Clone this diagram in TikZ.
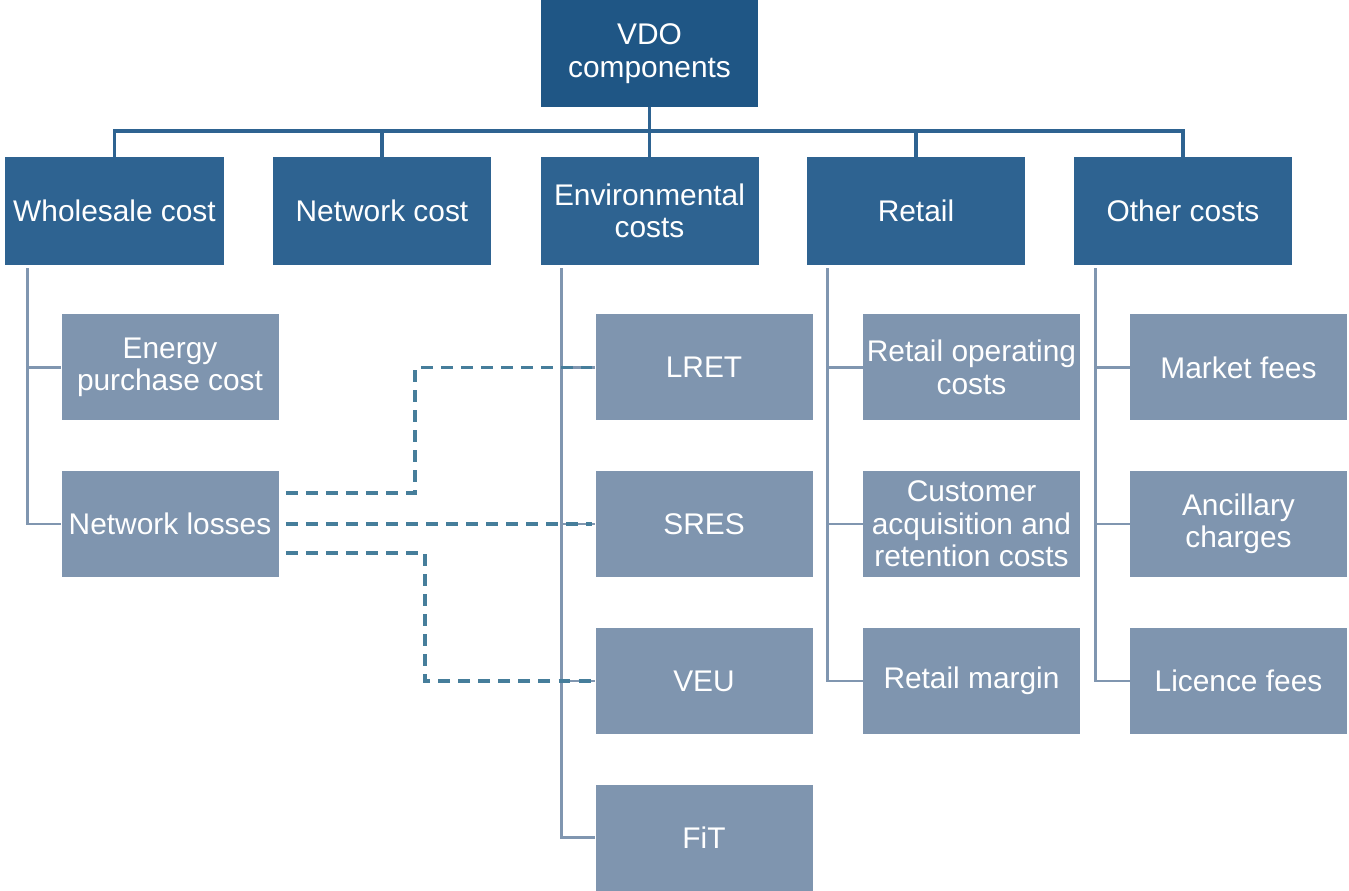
\documentclass[tikz,border=0pt]{standalone}
\usepackage{fontspec}
\setmainfont{Liberation Sans}
\usetikzlibrary{calc}
\definecolor{topc}{RGB}{31,86,133}
\definecolor{midc}{RGB}{46,99,145}
\definecolor{lowc}{RGB}{127,149,175}
\definecolor{subline}{RGB}{128,150,176}
\definecolor{dashc}{RGB}{70,126,155}
\tikzset{
  boxbase/.style={rectangle, text=white, align=center, inner sep=1pt,
    font=\fontsize{17}{18.5}\selectfont},
  topbox/.style={boxbase, fill=topc, minimum width=4.34cm, minimum height=2.14cm},
  midbox/.style={boxbase, fill=midc, minimum width=4.36cm, minimum height=2.16cm},
  lowbox/.style={boxbase, fill=lowc, minimum width=4.34cm, minimum height=2.12cm},
  busline/.style={draw=midc, line width=2pt},
  subconn/.style={draw=subline, line width=1.6pt},
  dashconn/.style={draw=dashc, line width=1.8pt, dash pattern=on 6.8pt off 4.6pt}
}
\begin{document}
\begin{tikzpicture}
\useasboundingbox (0,0) rectangle (26.98,-17.82);
% top
\node[topbox] (vdo) at (12.99,-1.07) {VDO\\components};
% level 1
\node[midbox] (w) at (2.29,-4.22) {Wholesale cost};
\node[midbox] (n) at (7.64,-4.22) {Network cost};
\node[midbox] (e) at (12.99,-4.22) {Environmental\\costs};
\node[midbox] (r) at (18.32,-4.22) {Retail};
\node[midbox] (o) at (23.66,-4.22) {Other costs};
% level 2
\node[lowbox] (epc) at (3.40,-7.35) {Energy\\purchase cost};
\node[lowbox] (nl) at (3.40,-10.48) {Network losses};
\node[lowbox] (lret) at (14.08,-7.35) {LRET};
\node[lowbox] (sres) at (14.08,-10.48) {SRES};
\node[lowbox] (veu) at (14.08,-13.62) {VEU};
\node[lowbox] (fit) at (14.08,-16.75) {FiT};
\node[lowbox] (roc) at (19.43,-7.35) {Retail operating\\costs};
\node[lowbox] (car) at (19.43,-10.48) {Customer\\acquisition and\\retention costs};
\node[lowbox] (rm) at (19.43,-13.62) {Retail margin};
\node[lowbox] (mf) at (24.77,-7.35) {Market fees};
\node[lowbox] (ac) at (24.77,-10.48) {Ancillary\\charges};
\node[lowbox] (lf) at (24.77,-13.62) {Licence fees};
% bus
\coordinate (bus) at (0,-2.62);
\draw[busline] (vdo.south) -- (vdo.south |- bus);
\draw[busline] (w.north) -- (w.north |- bus) -- (o.north |- bus) -- (o.north);
\draw[busline] (n.north) -- (n.north |- bus);
\draw[busline] (e.north) -- (e.north |- bus);
\draw[busline] (r.north) -- (r.north |- bus);
% sub connectors
\coordinate (wl) at ($(w.south west)+(0.44,-0.06)$);
\coordinate (el) at ($(e.south west)+(0.42,-0.06)$);
\coordinate (rl) at ($(r.south west)+(0.42,-0.06)$);
\coordinate (ol) at ($(o.south west)+(0.44,-0.06)$);
\draw[subconn] (wl) |- (epc.west);
\draw[subconn] (wl) |- (nl.west);
\draw[subconn] (el) |- (lret.west);
\draw[subconn] (el) |- (sres.west);
\draw[subconn] (el) |- (veu.west);
\draw[subconn] (el) |- (fit.west);
\draw[subconn] (rl) |- (roc.west);
\draw[subconn] (rl) |- (car.west);
\draw[subconn] (rl) |- (rm.west);
\draw[subconn] (ol) |- (mf.west);
\draw[subconn] (ol) |- (ac.west);
\draw[subconn] (ol) |- (lf.west);
% dashed links
\coordinate (t1) at (8.30,0);
\coordinate (t3) at (8.50,0);
\draw[dashconn] ([shift={(0.14,0.62)}]nl.east) -| (t1 |- lret.west) -- ([xshift=-0.06cm]lret.west);
\draw[dashconn] ([xshift=0.14cm]nl.east) -- ([xshift=-0.06cm]sres.west);
\draw[dashconn] ([shift={(0.14,-0.58)}]nl.east) -| (t3 |- veu.west) -- ([xshift=-0.06cm]veu.west);
\end{tikzpicture}
\end{document}
